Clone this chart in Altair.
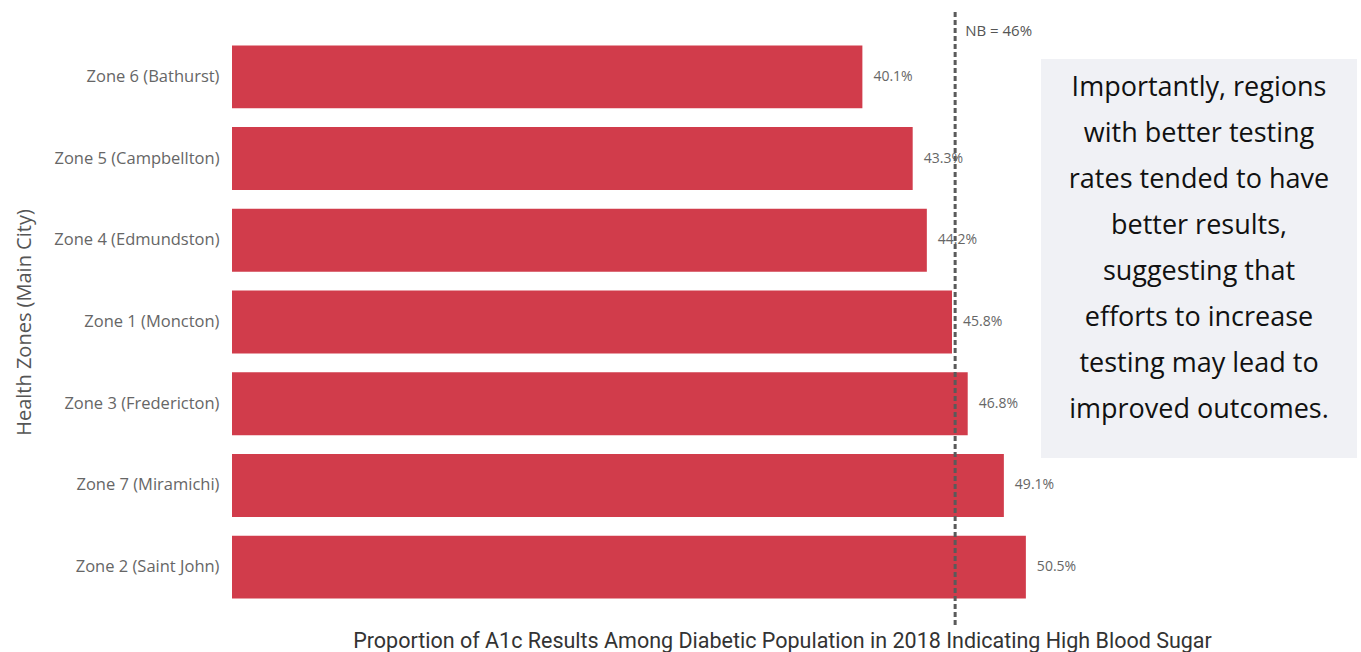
import altair as alt
import pandas as pd

zones = [
    "Zone 6 (Bathurst)",
    "Zone 5 (Campbellton)",
    "Zone 4 (Edmundston)",
    "Zone 1 (Moncton)",
    "Zone 3 (Fredericton)",
    "Zone 7 (Miramichi)",
    "Zone 2 (Saint John)",
]
values = [40.1, 43.3, 44.2, 45.8, 46.8, 49.1, 50.5]
labels = ["40.1%", "43.3%", "44.2%", "45.8%", "46.8%", "49.1%", "50.5%"]

nb_value = 46
nb_label = "NB = 46%"

note_lines = [
    "Importantly, regions",
    "with better testing",
    "rates tended to have",
    "better results,",
    "suggesting that",
    "efforts to increase",
    "testing may lead to",
    "improved outcomes.",
]

x_title = "Proportion of A1c Results Among Diabetic Population in 2018 Indicating High Blood Sugar"
y_title = "Health Zones (Main City)"

df = pd.DataFrame({"zone": zones, "value": values, "label": labels})
nb_df = pd.DataFrame({"nb": [nb_value], "label": [nb_label]})

W, H = 1124, 572
x_scale = alt.Scale(domain=[0, 71.5], nice=False, zero=True)
y_scale = alt.Scale(domain=zones, paddingInner=0.23, paddingOuter=0.115)

base = alt.Chart(df)

bars = base.mark_bar(color="#D13C4B").encode(
    x=alt.X(
        "value:Q",
        scale=x_scale,
        axis=alt.Axis(
            labels=False, ticks=False, domain=False, grid=False,
            title=x_title, titleFont="Roboto", titleFontSize=21.5,
            titleFontWeight="normal", titleColor="#333333",
            titleX=550, titleY=39, titleAlign="center", titleBaseline="alphabetic",
        ),
    ),
    y=alt.Y(
        "zone:N",
        scale=y_scale,
        sort=zones,
        axis=alt.Axis(
            ticks=False, domain=False, grid=False, labelPadding=13,
            labelFont="Open Sans", labelFontSize=16.5, labelColor="#666666",
            title=y_title, titleFont="Open Sans", titleFontSize=20,
            titleFontWeight="normal", titleColor="#555555",
            titleAngle=-90, titleX=-208, titleY=286,
            titleAlign="center", titleBaseline="middle",
        ),
    ),
)

texts = base.mark_text(
    align="left", baseline="middle", dx=11, font="Open Sans", fontSize=14, color="#666666"
).encode(
    x=alt.X("value:Q", scale=x_scale),
    y=alt.Y("zone:N", scale=y_scale, sort=zones),
    text="label:N",
)

nb_rule = alt.Chart(nb_df).mark_rule(
    color="#5a5a5a", strokeWidth=3, strokeDash=[5, 3]
).encode(
    x=alt.X("nb:Q", scale=x_scale),
    y=alt.value(-24),
    y2=alt.value(592),
)

nb_text = alt.Chart(nb_df).mark_text(
    align="left", baseline="middle", dx=10, font="Open Sans", fontSize=15, color="#555555"
).encode(
    x=alt.X("nb:Q", scale=x_scale),
    y=alt.value(-5),
    text="label:N",
)

box = alt.Chart(nb_df).mark_rect(color="#F0F1F5").encode(
    x=alt.value(809), x2=alt.value(1125), y=alt.value(23), y2=alt.value(422)
)

note = alt.Chart(nb_df).mark_text(
    text=note_lines, align="center", baseline="middle", font="Open Sans",
    fontSize=27, lineHeight=46, color="#111111",
).encode(x=alt.value(967), y=alt.value(52))

chart = alt.layer(bars, texts, box, note, nb_rule, nb_text).properties(
    width=W, height=H,
    autosize=alt.AutoSizeParams(type="none"),
    padding={"left": 232, "top": 36, "right": 5, "bottom": 44},
).configure(background="white").configure_view(stroke=None, strokeWidth=0)

chart.save("out.html", embed_options={"renderer": "svg", "actions": False})
